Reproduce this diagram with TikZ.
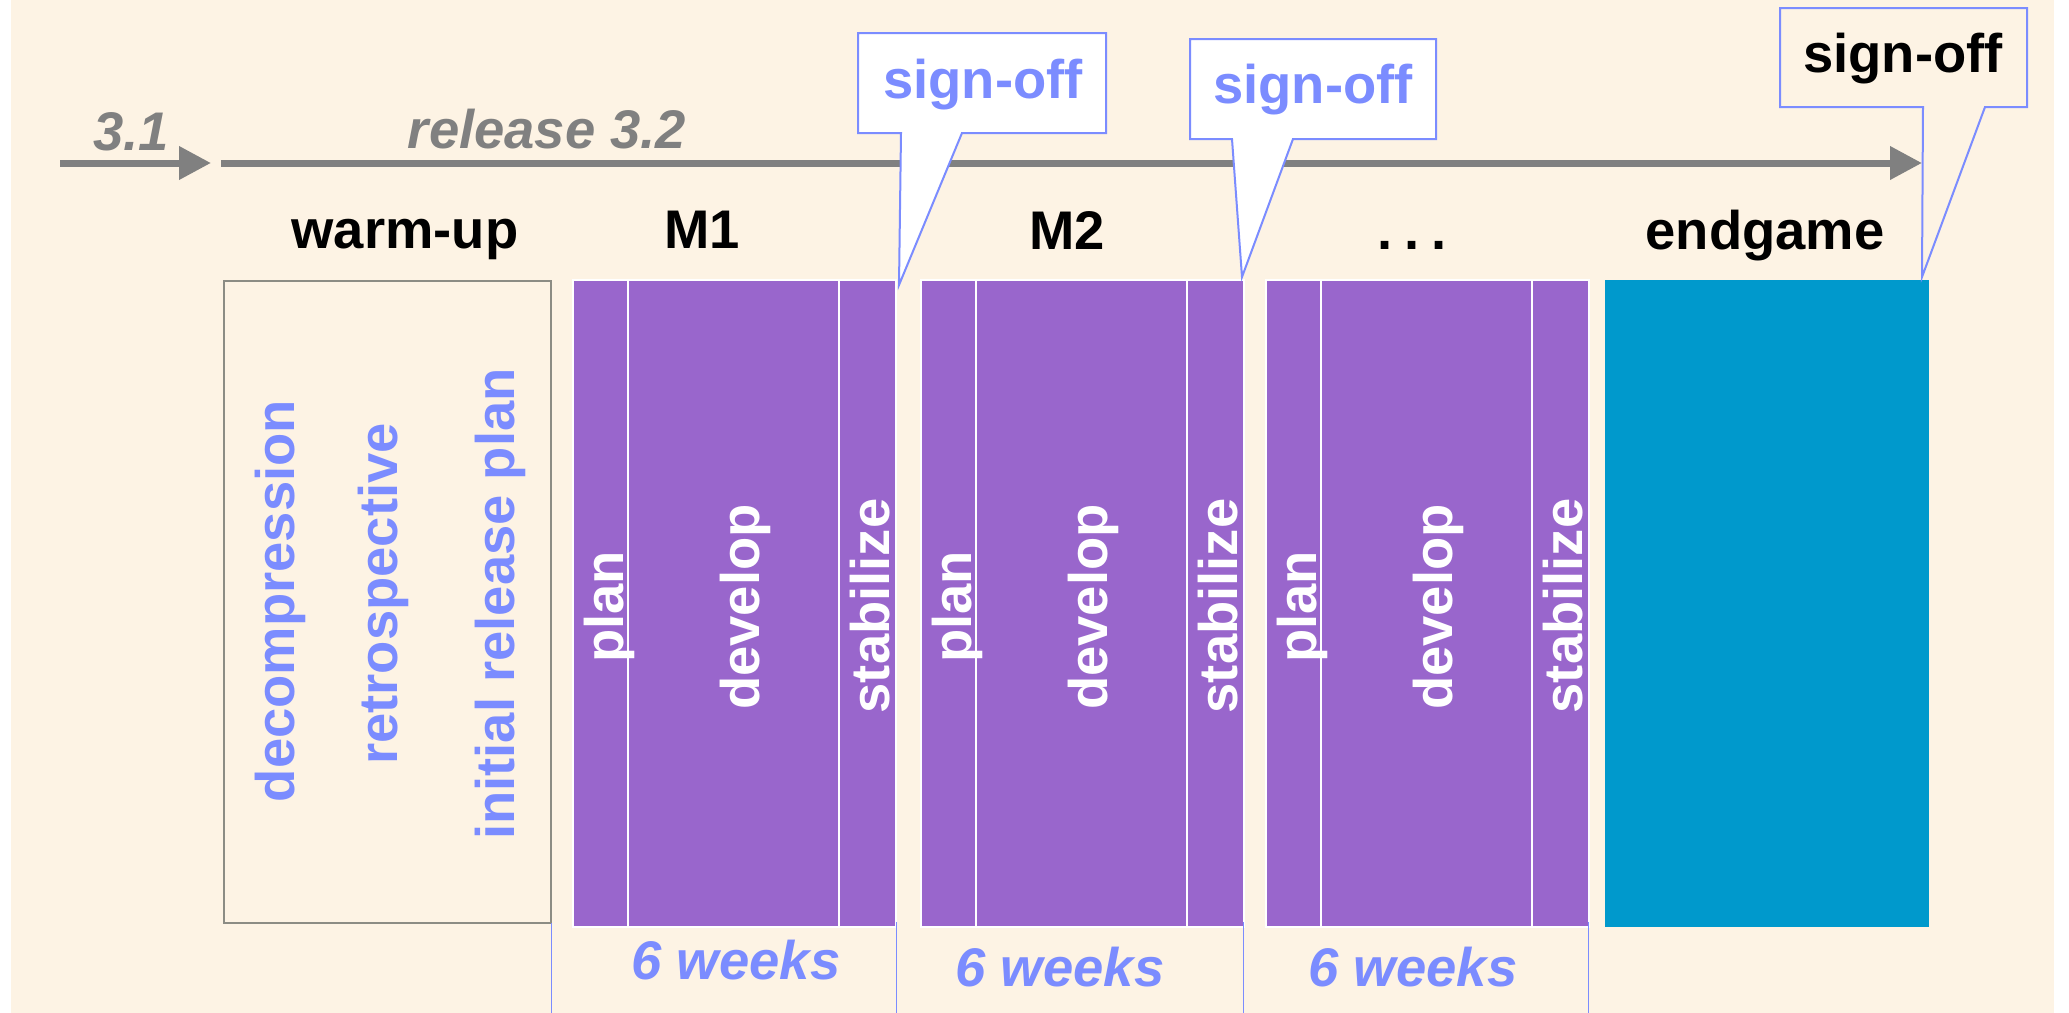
\documentclass[tikz,border=0pt]{standalone}
\usepackage{fontspec}
\setmainfont{Liberation Sans}
\usetikzlibrary{arrows.meta}
\definecolor{creambg}{HTML}{FDF3E4}
\definecolor{purpblk}{HTML}{9966CC}
\definecolor{endblue}{HTML}{0099CC}
\definecolor{peri}{HTML}{7B8CFF}
\definecolor{arrgray}{HTML}{808080}
\definecolor{boxgray}{HTML}{8C8C84}
\begin{document}
\begin{tikzpicture}[x=0.5pt,y=-0.5pt,
  txt/.style={font=\fontsize{27.2}{32}\selectfont\bfseries, inner sep=0pt, anchor=base},
  itxt/.style={txt, font=\fontsize{27.2}{32}\selectfont\bfseries\itshape},
  vtxt/.style={txt, rotate=90},
  timeline/.style={draw=arrgray, line width=3.5pt, -{Triangle[length=16pt,width=16pt]}},
  blk/.style={fill=purpblk, draw=white, line width=0.75pt},
  callout/.style={draw=peri, line width=1pt, line join=miter},
  tick/.style={draw=peri, line width=0.75pt}]
\useasboundingbox (0,0) rectangle (2069,1013);
\fill[white] (0,0) rectangle (2069,1013);
\fill[creambg] (11,0) rectangle (2054,1013);

% timeline arrows
\coordinate (a1s) at (60,163);
\coordinate (a1e) at (211,163);
\coordinate (a2s) at (221,163);
\coordinate (a2e) at (1922,163);
\draw[timeline] (a1s) -- (a1e);
\draw[timeline] (a2s) -- (a2e);
\node[itxt, text=arrgray] (v31) at (131,150) {3.1};
\node[itxt, text=arrgray] (r32) at (547,148) {release 3.2};

% phase titles
\node[txt] (twarm) at (405,248) {warm-up};
\node[txt] (tm1) at (702,248) {M1};
\node[txt] (tm2) at (1067,249) {M2};
\node[txt] (tm3) at (1412,249) {.\hspace{6pt}.\hspace{6pt}.};
\node[txt] (tend) at (1765,249) {endgame};

% warm-up box
\draw[boxgray, line width=1pt] (224,281) rectangle (551,923);
\node[vtxt, text=peri] (dec) at (294,601) {decompression};
\node[vtxt, text=peri] (ret) at (397,594) {retrospective};
\node[vtxt, text=peri] (irp) at (514,604) {initial release plan};

% milestone blocks
\foreach \s/\n in {573/1, 921/2, 1266/3} {
  \path[blk] (\s,280) rectangle (\s+55,927);
  \path[blk] (\s+55,280) rectangle (\s+266,927);
  \path[blk] (\s+266,280) rectangle (\s+323,927);
  \node[vtxt, text=white] (plan\n) at (\s+50,607) {plan};
  \node[vtxt, text=white] (dev\n) at (\s+186,607) {develop};
  \node[vtxt, text=white] (stab\n) at (\s+316,606) {stabilize};
}

% endgame
\fill[endblue] (1605,280) rectangle (1929,927);

% duration ticks
\foreach \x/\ya/\m in {551.5/923/t0, 896.5/922/t1, 1243.5/922/t2, 1588.5/922/t3} {
  \coordinate (\m a) at (\x,\ya);
  \coordinate (\m b) at (\x,1013);
  \draw[tick] (\m a) -- (\m b);
}
\node[itxt, text=peri] (w1) at (736,979) {6 weeks};
\node[itxt, text=peri] (w2) at (1060,986) {6 weeks};
\node[itxt, text=peri] (w3) at (1413,986) {6 weeks};

% sign-off callouts
\draw[callout, fill=white] (858,33) -- (1106,33) -- (1106,133) -- (962,133) -- (899,285) -- (901,133) -- (858,133) -- cycle;
\node[txt, text=peri] (so1) at (983,98) {sign-off};
\draw[callout, fill=white] (1190,39) -- (1436,39) -- (1436,139) -- (1293,139) -- (1242,277) -- (1232,139) -- (1190,139) -- cycle;
\node[txt, text=peri] (so2) at (1313,103) {sign-off};
\draw[callout, fill=creambg] (1780,8) -- (2027,8) -- (2027,107) -- (1985,107) -- (1922,277) -- (1923,107) -- (1780,107) -- cycle;
\node[txt] (so3) at (1903,72) {sign-off};
\end{tikzpicture}
\end{document}
